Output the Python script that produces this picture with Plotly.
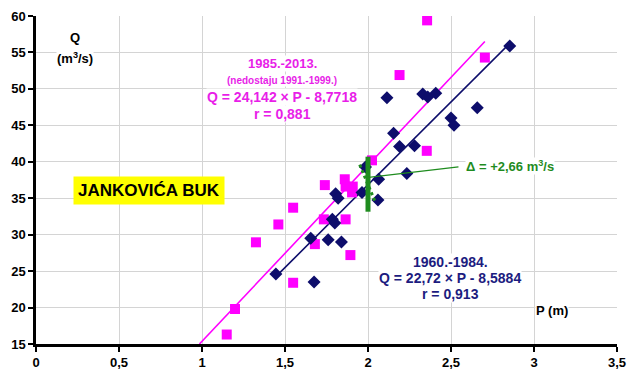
import plotly.graph_objects as go

# 1960-1984 (blue diamonds)
p_1960 = [1.445, 1.655, 1.675, 1.76, 1.84, 1.785, 1.80, 1.805, 1.82, 1.964, 2.064, 2.06, 2.234,
          2.154, 2.19, 2.28, 2.114, 2.33, 2.36, 2.408, 2.50, 2.518, 2.658, 2.854, 1.985]
q_1960 = [24.6, 29.5, 23.5, 29.3, 29.0, 32.1, 31.6, 35.6, 35.0, 35.8, 37.6, 34.75, 38.4,
          43.9, 42.1, 42.2, 48.8, 49.3, 48.9, 49.4, 46.0, 45.0, 47.4, 55.9, 39.3]

# 1985-2013 (magenta squares)
p_1985 = [1.149, 1.199, 1.325, 1.46, 1.549, 1.549, 1.68, 1.74, 1.734, 1.865, 1.894, 1.86,
          1.865, 1.904, 2.024, 2.19, 2.354, 2.356, 2.704, 1.908]
q_1985 = [16.3, 19.8, 28.95, 31.4, 33.7, 23.4, 28.7, 36.8, 32.1, 32.1, 27.2, 37.6,
          36.6, 35.8, 40.2, 51.9, 41.5, 59.4, 54.3, 36.6]

# regression coefficients
a_1960, b_1960 = 22.72, -8.5884
a_1985, b_1985 = 24.142, -8.7718

# delta marker at P = 2
delta_p = [2.0, 2.0]
delta_q = [33.15, 40.7]
delta_dot_p = [1.95, 2.045]
delta_dot_q = [39.6, 34.4]

x_ticks = [0, 0.5, 1, 1.5, 2, 2.5, 3, 3.5]
x_labels = ["0", "0,5", "1", "1,5", "2", "2,5", "3", "3,5"]
y_ticks = [15, 20, 25, 30, 35, 40, 45, 50, 55, 60]

BLUE = "#0d0d6b"
MAG = "#ff00ff"
GREEN = "#1f8c1f"
FONT = "Liberation Sans, Arial, sans-serif"

fig = go.Figure()

# regression lines
x0 = (15 - b_1985) / a_1985
x1 = max(p_1985)
fig.add_trace(go.Scatter(x=[x0, x1], y=[a_1985 * x0 + b_1985, a_1985 * x1 + b_1985],
                         mode="lines", line=dict(color=MAG, width=1.6), hoverinfo="skip"))
xb0, xb1 = min(p_1960), max(p_1960)
fig.add_trace(go.Scatter(x=[xb0, xb1], y=[a_1960 * xb0 + b_1960, a_1960 * xb1 + b_1960],
                         mode="lines", line=dict(color=BLUE, width=1.6), hoverinfo="skip"))

fig.add_trace(go.Scatter(x=p_1985, y=q_1985, mode="markers",
                         marker=dict(symbol="square", size=10, color=MAG)))
fig.add_trace(go.Scatter(x=p_1960, y=q_1960, mode="markers",
                         marker=dict(symbol="diamond", size=10, color=BLUE)))

# delta markers
fig.add_trace(go.Scatter(x=delta_dot_p, y=delta_dot_q, mode="lines",
                         line=dict(color=GREEN, width=3, dash="dot")))
fig.add_trace(go.Scatter(x=delta_p, y=delta_q, mode="lines",
                         line=dict(color=GREEN, width=5)))
fig.add_trace(go.Scatter(x=[2.004, 2.545], y=[37.85, 39.3], mode="lines",
                         line=dict(color=GREEN, width=1.3)))

fig.update_layout(
    width=629, height=371,
    margin=dict(l=36, r=12, t=16, b=27, autoexpand=False),
    paper_bgcolor="white", plot_bgcolor="white",
    showlegend=False,
    font=dict(family=FONT, color="black"),
    xaxis=dict(range=[0, 3.5], tickvals=x_ticks, ticktext=["<b>%s</b>" % t for t in x_labels],
               showgrid=True, gridcolor="#d4d4d4", gridwidth=1, automargin=False,
               showline=True, linecolor="black", linewidth=2.5,
               ticks="outside", ticklen=5, tickwidth=2, tickcolor="black",
               tickfont=dict(size=13, family=FONT), zeroline=False),
    yaxis=dict(range=[15, 60], tickvals=y_ticks, ticktext=["<b>%d</b>" % t for t in y_ticks],
               showgrid=True, gridcolor="#d4d4d4", gridwidth=1, automargin=False,
               showline=True, linecolor="black", linewidth=2.5,
               ticks="outside", ticklen=5, tickwidth=2, tickcolor="black",
               tickfont=dict(size=13, family=FONT), zeroline=False),
)

def ann(text, x, y, size, color, bg="white", xanchor="center", pad=0):
    fig.add_annotation(x=x, y=y, xref="paper", yref="paper", text=text, showarrow=False,
                       font=dict(size=size, color=color, family=FONT), bgcolor=bg,
                       xanchor=xanchor, yanchor="middle", borderpad=pad)

L, R, T, B = 36, 617, 16, 344
def px(x): return (x - L) / (R - L)
def py(y): return (B - y) / (B - T)

ann("<b>Q</b>", px(75), py(38), 13, "black")
ann("<b>(m<sup>3</sup>/s)</b>", px(75), py(58), 13, "black")
ann("<b>P (m)</b>", px(552), py(310), 13, "black")
ann("<b>JANKOVIĆA BUK</b>", px(149), py(191), 17, "black", bg="#ffff00", pad=4)
ann("<b>1985.-2013.</b>", px(282), py(63), 13, "#e81ee8")
ann("<b>(nedostaju 1991.-1999.)</b>", px(282), py(81), 10, "#e81ee8")
ann("<b>Q = 24,142 × P - 8,7718</b>", px(282), py(97), 14, "#e81ee8")
ann("<b>r = 0,881</b>", px(282), py(114), 14, "#e81ee8")
ann("<b>1960.-1984.</b>", px(450), py(262), 14, "#1c1c80")
ann("<b>Q = 22,72 × P - 8,5884</b>", px(450), py(278), 14, "#1c1c80")
ann("<b>r = 0,913</b>", px(450), py(294), 14, "#1c1c80")
ann("<b>Δ = +2,66 m<sup>3</sup>/s</b>", px(465), py(166), 13, GREEN, xanchor="left")

fig.write_html("out.html", config={"displayModeBar": False},
               post_script="document.body.style.margin='0px';document.body.style.overflow='hidden';")
